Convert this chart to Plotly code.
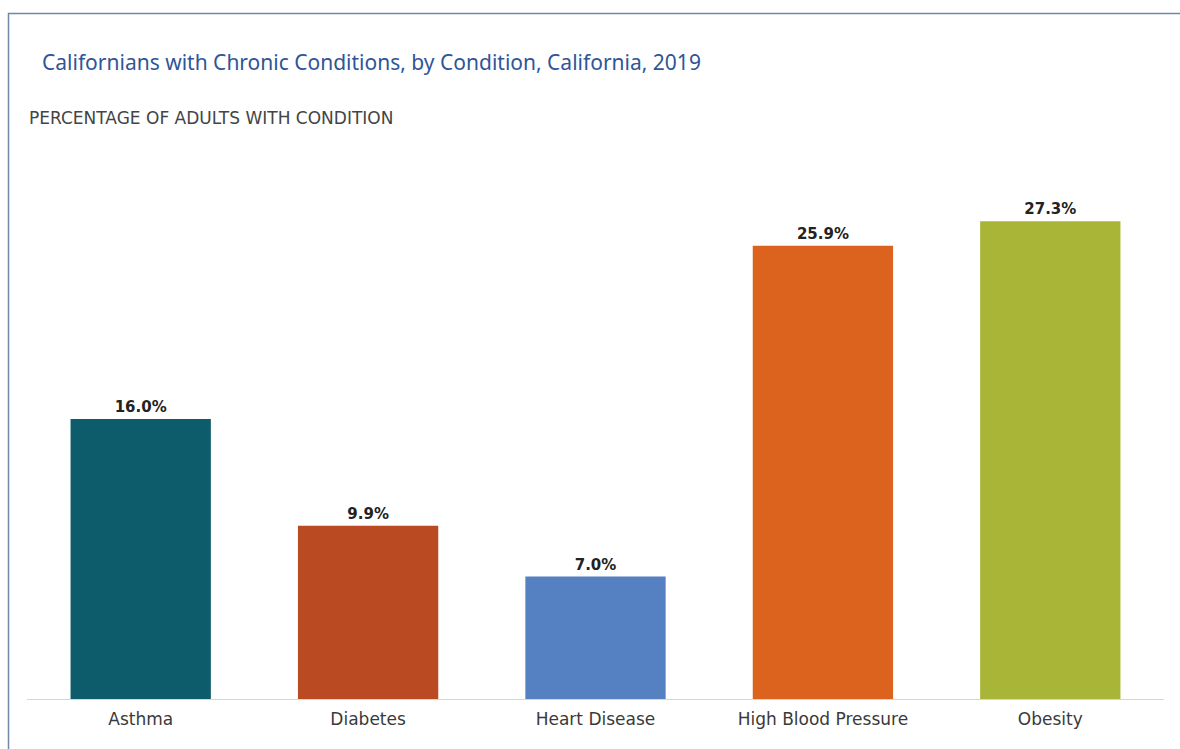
import plotly.graph_objects as go

categories = ["Asthma", "Diabetes", "Heart Disease", "High Blood Pressure", "Obesity"]
values = [16.0, 9.9, 7.0, 25.9, 27.3]
colors = ["#0d5c6b", "#b94a22", "#5580c2", "#dc631e", "#a8b536"]

fig = go.Figure(go.Bar(
    x=categories, y=values,
    marker=dict(color=colors, line=dict(width=0)),
    text=[f"{v:.1f}%" for v in values],
    textposition="outside",
    textfont=dict(family="DejaVu Sans", size=15, color="#222222", weight="bold"),
    cliponaxis=False,
    hoverinfo="skip",
))

fig.update_layout(
    width=1180, height=749,
    margin=dict(l=27, r=16, t=209, b=50),
    paper_bgcolor="white", plot_bgcolor="white",
    bargap=0.383,
    showlegend=False,
    title=dict(
        text="Californians with Chronic Conditions, by Condition, California, 2019",
        xref="container", yref="container",
        x=42/1180, y=1-63/749, xanchor="left", yanchor="middle",
        font=dict(family="Noto Sans", size=21, color="#2f5597"),
    ),
    xaxis=dict(
        showline=True, linecolor="#d6d6d6", linewidth=1,
        ticks="", showgrid=False, ticklabelstandoff=5,
        tickfont=dict(family="DejaVu Sans", size=17, color="#3a3a3a"),
    ),
    yaxis=dict(range=[0, 28], visible=False, showgrid=False),
    annotations=[dict(
        text="PERCENTAGE OF ADULTS WITH CONDITION",
        xref="paper", yref="paper", x=(27-27)/1137, y=(699-118)/490,
        xanchor="left", yanchor="middle", showarrow=False,
        font=dict(family="DejaVu Sans", size=17, color="#444444"),
    )],
    shapes=[dict(
        type="path", xref="paper", yref="paper",
        path=f"M {(8.5-27)/1137},-0.3 L {(8.5-27)/1137},{(699-13.5)/490} L 1.2,{(699-13.5)/490}",
        line=dict(color="#7088a3", width=1.5),
    )],
)

fig.write_html("out.html")
